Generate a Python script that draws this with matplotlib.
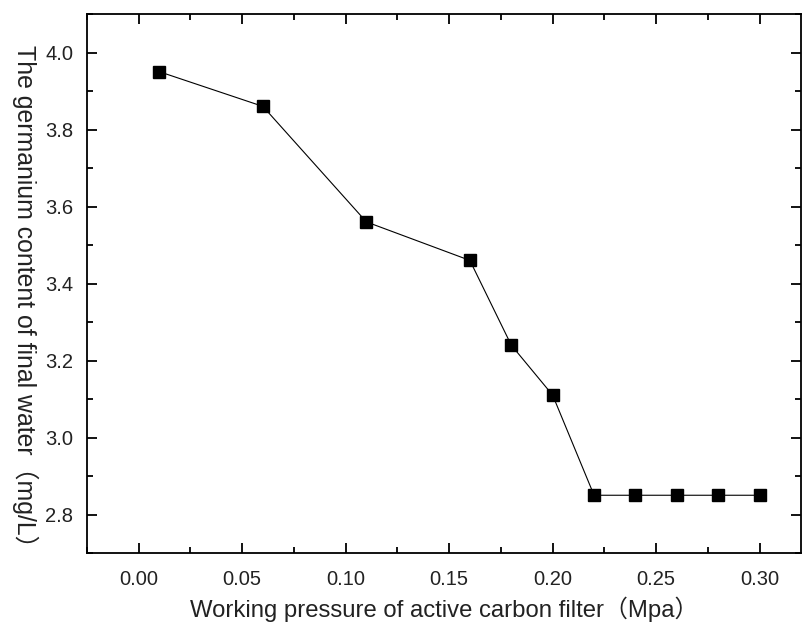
import matplotlib
matplotlib.use("Agg")
import matplotlib.pyplot as plt
from matplotlib.ticker import MultipleLocator

# Data
pressure = [0.01, 0.06, 0.11, 0.16, 0.18, 0.20, 0.22, 0.24, 0.26, 0.28, 0.30]
germanium = [3.95, 3.86, 3.56, 3.46, 3.24, 3.11, 2.85, 2.85, 2.85, 2.85, 2.85]

xlabel = "Working pressure of active carbon filter（Mpa）"
ylabel = "The germanium content of final water（mg/L）"

plt.rcParams.update({
    "font.family": ["Liberation Sans", "Noto Sans CJK SC", "DejaVu Sans"],
    "font.size": 14.5,
    "axes.linewidth": 1.3,
})

fig = plt.figure(figsize=(8.02, 6.26), dpi=100)
ax = fig.add_axes([87 / 802, 1 - 553 / 626, (801 - 87) / 802, (553 - 14) / 626])

ax.plot(pressure, germanium, c="k", lw=0.8, marker="s", ms=8.5, mfc="k", mec="k")

ax.set_xlim(-0.025, 0.32)
ax.set_ylim(2.7, 4.1)
ax.xaxis.set_major_locator(MultipleLocator(0.05))
ax.xaxis.set_minor_locator(MultipleLocator(0.025))
ax.yaxis.set_major_locator(MultipleLocator(0.2))
ax.yaxis.set_minor_locator(MultipleLocator(0.1))
ax.xaxis.set_major_formatter(matplotlib.ticker.FormatStrFormatter("%.2f"))
ax.yaxis.set_major_formatter(matplotlib.ticker.FormatStrFormatter("%.1f"))

ax.tick_params(which="both", direction="in", top=True, right=True, width=1.3,
               colors="k", labelcolor="#222222")
ax.tick_params(which="major", length=7)
ax.tick_params(axis="x", which="major", pad=12)
ax.tick_params(axis="y", which="major", pad=10)
ax.tick_params(which="minor", length=4)

ax.set_xlabel(xlabel, fontsize=17.2, color="#222222", labelpad=6)
ax.set_ylabel(ylabel, fontsize=17.9, color="#222222", rotation=270)
ax.yaxis.set_label_coords(-0.105, 0.466)

fig.savefig("out.png", dpi=100)
